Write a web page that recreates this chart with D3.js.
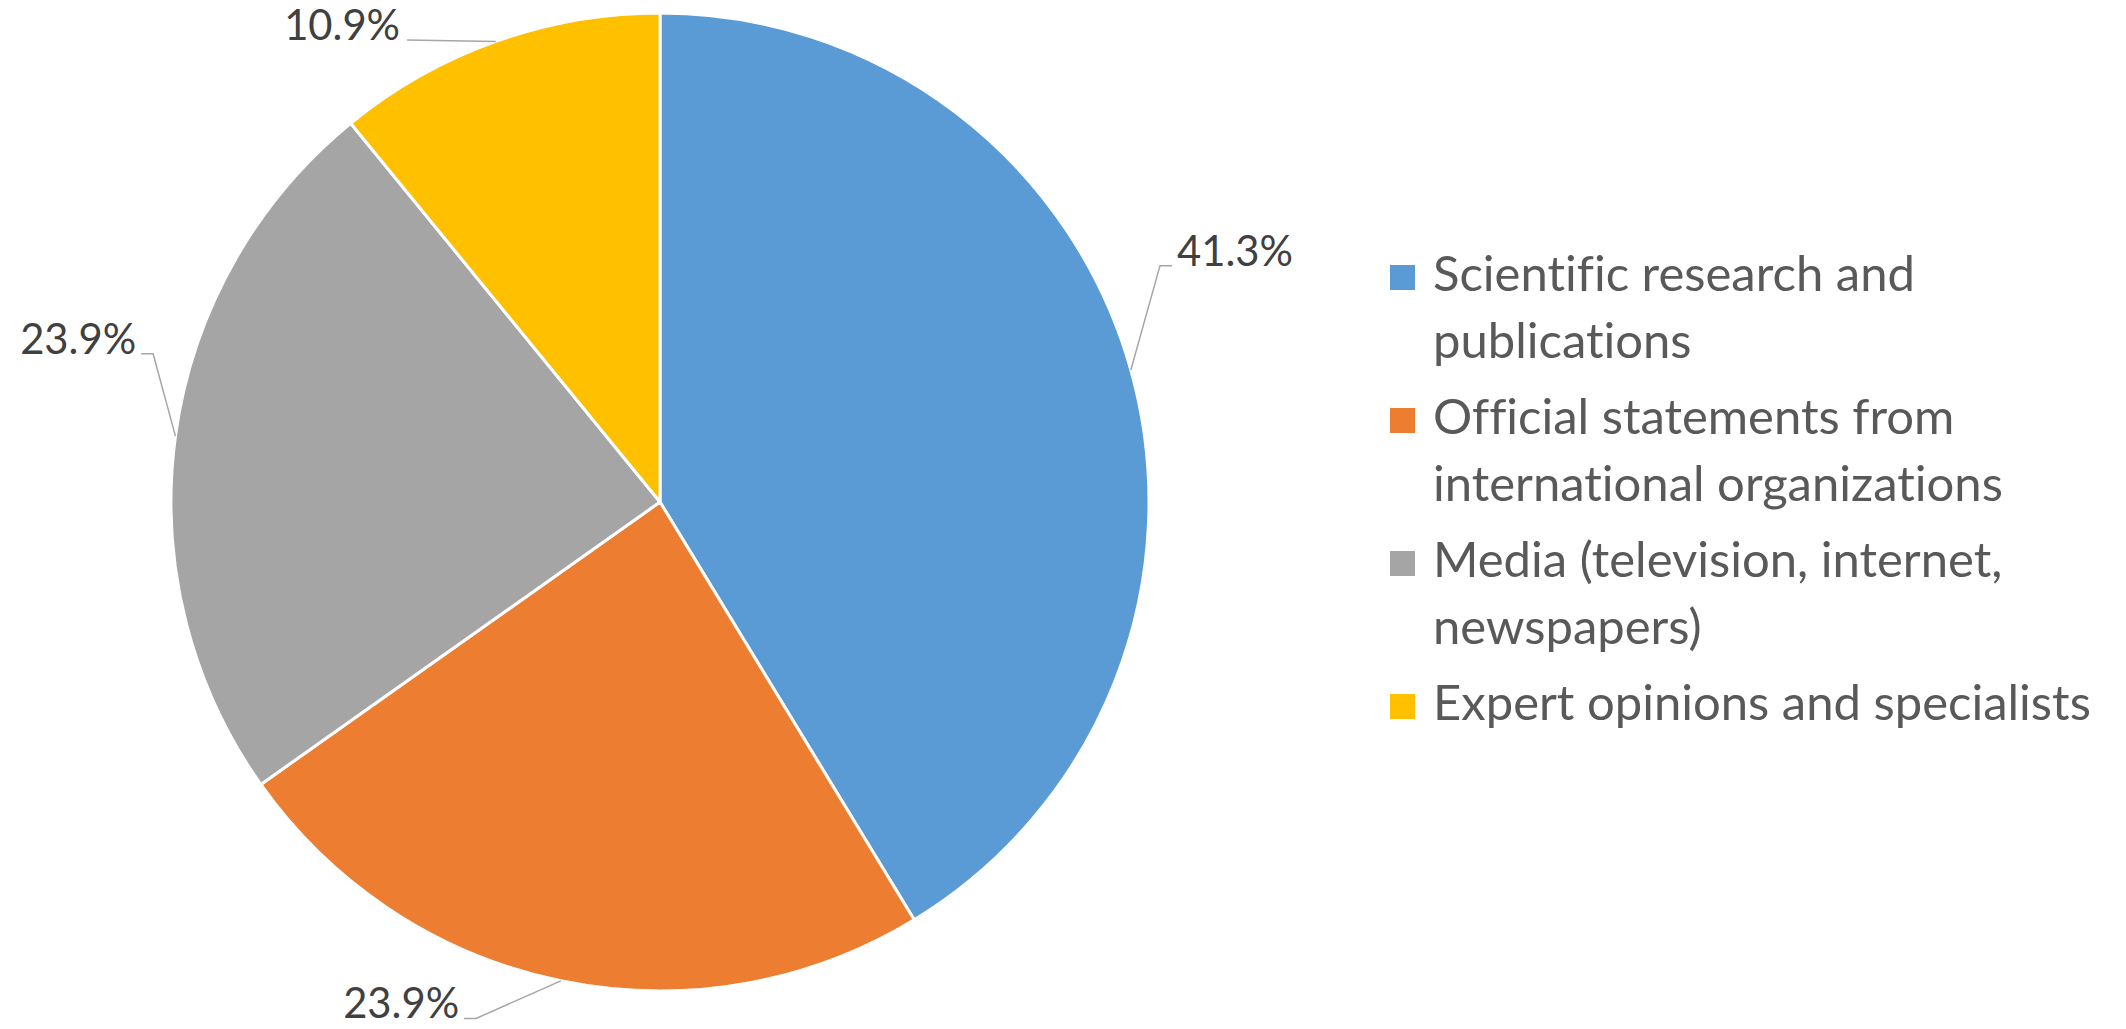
<!DOCTYPE html>
<html>
<head>
<meta charset="utf-8">
<script src="https://cdn.jsdelivr.net/npm/d3@7"></script>
<style>
  html, body { margin: 0; padding: 0; background: #ffffff; }
  svg { display: block; }
  text { font-variant-ligatures: none; font-feature-settings: "liga" 0, "clig" 0; }
</style>
</head>
<body>
<svg id="chart" width="2126" height="1029"></svg>
<script>
// ---- data ----
const categories = [
  "Scientific research and publications",
  "Official statements from international organizations",
  "Media (television, internet, newspapers)",
  "Expert opinions and specialists"
];
const legendLines = [
  ["Scientific research and", "publications"],
  ["Official statements from", "international organizations"],
  ["Media (television, internet,", "newspapers)"],
  ["Expert opinions and specialists"]
];
const values = [41.3, 23.9, 23.9, 10.9];
const valueLabels = ["41.3%", "23.9%", "23.9%", "10.9%"];

// ---- styling / layout ----
const colors = ["#5B9BD5", "#ED7D31", "#A5A5A5", "#FFC000"];
const W = 2126, H = 1029;
const cx = 660, cy = 502, R = 489;
const FONT = "Lato, 'Open Sans', sans-serif";
// label elbow placement (polar, relative to pie radius), side of text
const labelLayout = [
  { rf: 1.131, deg: 64.7, side: 1 },
  { rf: 1.121, deg: 199.6, side: -1 },
  { rf: 1.080, deg: 286.3, side: -1 },
  { rf: 1.077, deg: 331.3, side: -1, straight: true }
];

const svg = d3.select("#chart");
svg.append("rect").attr("width", W).attr("height", H).attr("fill", "#fff");

function fitSize(text, target, base) {
  const t = svg.append("text").attr("font-family", FONT).attr("font-size", base).text(text);
  const w = t.node().getComputedTextLength();
  t.remove();
  return base * target / w;
}
const labelSize = fitSize("41.3%", 116, 40);
const legendSize = fitSize("Expert opinions and specialists", 658, 40);

const pie = d3.pie().sort(null).value(d => d);
const arcs = pie(values);
const arc = d3.arc().innerRadius(0).outerRadius(R);

const g = svg.append("g").attr("transform", `translate(${cx},${cy})`);
g.selectAll("path.slice")
  .data(arcs)
  .join("path")
  .attr("class", "slice")
  .attr("d", arc)
  .attr("fill", (d, i) => colors[i])
  .attr("stroke", "#ffffff")
  .attr("stroke-width", 3)
  .attr("stroke-linejoin", "round");

// leader lines and labels
const polar = (r, a) => [r * Math.sin(a), -r * Math.cos(a)];
arcs.forEach((d, i) => {
  const L = labelLayout[i];
  const mid = (d.startAngle + d.endAngle) / 2;
  const p0 = polar(R, mid);
  const p1 = polar(R * L.rf, L.deg * Math.PI / 180);
  let pts, textX;
  if (L.straight) {
    pts = [p0, p1];
    textX = p1[0] + L.side * 7;
  } else {
    const p2 = [p1[0] + L.side * 12, p1[1]];
    pts = [p0, p1, p2];
    textX = p2[0] + L.side * 5;
  }
  g.append("path")
    .attr("d", d3.line()(pts))
    .attr("fill", "none")
    .attr("stroke", "#A6A6A6")
    .attr("stroke-width", 1.5);
  g.append("text")
    .attr("x", textX)
    .attr("y", p1[1])
    .attr("text-anchor", L.side > 0 ? "start" : "end")
    .attr("font-family", FONT)
    .attr("font-size", labelSize)
    .attr("fill", "#404040")
    .text(valueLabels[i]);
});

// legend
const legX = 1390, legY0 = 291, lineH = 67, itemGap = 9, sq = 25;
let y = legY0;
const leg = svg.append("g");
legendLines.forEach((lines, i) => {
  leg.append("rect")
    .attr("x", legX)
    .attr("y", y - sq - 1)
    .attr("width", sq)
    .attr("height", sq)
    .attr("fill", colors[i]);
  const t = leg.append("text")
    .attr("font-family", FONT)
    .attr("font-size", legendSize)
    .attr("fill", "#595959");
  lines.forEach((ln, j) => {
    t.append("tspan")
      .attr("x", legX + 43)
      .attr("y", y + j * lineH)
      .text(ln);
  });
  y += lines.length * lineH + itemGap;
});
</script>
</body>
</html>
